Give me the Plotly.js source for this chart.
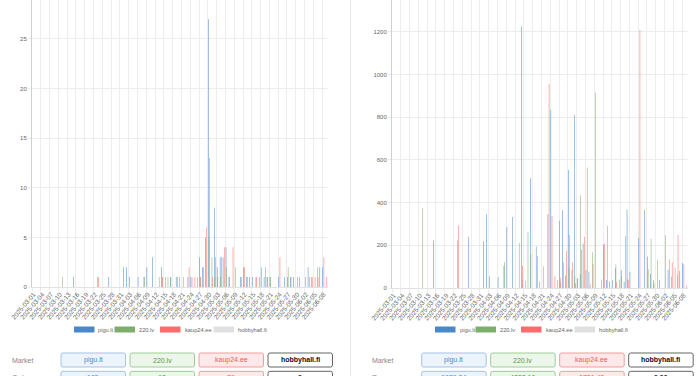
<!DOCTYPE html>
<html><head><meta charset="utf-8">
<script src="https://cdn.plot.ly/plotly-3.0.1.min.js"></script>
<style>html,body{margin:0;padding:0;background:#fff;overflow:hidden}#chart{width:700px;height:376px}</style>
</head><body><div id="chart"></div>
<script>
// ---------- DATA ----------
const dates = [
"2025-03-01","2025-03-02","2025-03-03","2025-03-04","2025-03-05","2025-03-06","2025-03-07","2025-03-08","2025-03-09","2025-03-10",
"2025-03-11","2025-03-12","2025-03-13","2025-03-14","2025-03-15","2025-03-16","2025-03-17","2025-03-18","2025-03-19","2025-03-20",
"2025-03-21","2025-03-22","2025-03-23","2025-03-24","2025-03-25","2025-03-26","2025-03-27","2025-03-28","2025-03-29","2025-03-30",
"2025-03-31","2025-04-01","2025-04-02","2025-04-03","2025-04-04","2025-04-05","2025-04-06","2025-04-07","2025-04-08","2025-04-09",
"2025-04-10","2025-04-11","2025-04-12","2025-04-13","2025-04-14","2025-04-15","2025-04-16","2025-04-17","2025-04-18","2025-04-19",
"2025-04-20","2025-04-21","2025-04-22","2025-04-23","2025-04-24","2025-04-25","2025-04-26","2025-04-27","2025-04-28","2025-04-29",
"2025-04-30","2025-05-01","2025-05-02","2025-05-03","2025-05-04","2025-05-05","2025-05-06","2025-05-07","2025-05-08","2025-05-09",
"2025-05-10","2025-05-11","2025-05-12","2025-05-13","2025-05-14","2025-05-15","2025-05-16","2025-05-17","2025-05-18","2025-05-19",
"2025-05-20","2025-05-21","2025-05-22","2025-05-23","2025-05-24","2025-05-25","2025-05-26","2025-05-27","2025-05-28","2025-05-29",
"2025-05-30","2025-05-31","2025-06-01","2025-06-02","2025-06-03","2025-06-04","2025-06-05","2025-06-06","2025-06-07","2025-06-08",
"2025-06-09"];

const markets = ["pigu.lt", "220.lv", "kaup24.ee", "hobbyhall.fi"];

// Orders per day (left chart)
const ordersPigu = [
0,0,0,0,0,0,0,0,0,0, 0,0,0,0,1,0,0,0,0,0, 0,0,0,0,0,0,1,0,0,0, 0,2,2,1,0,0,1,0,1,2,
0,3,0,0,2,0,0,1,0,1, 0,0,0,1,1,0,0,3,2,5, 27,0,8,2,3,3,4,1,0,0, 0,1,2,1,1,1,0,0,2,1,
1,1,0,0,1,0,1,1,1,1, 0,1,0,0,2,0,0,0,2,2, 0];
const orders220 = [
0,0,0,0,0,0,0,0,0,0, 1,0,0,0,0,0,0,0,0,0, 0,0,1,0,0,0,0,0,0,0, 0,0,0,0,0,0,0,0,1,0,
0,0,0,1,1,0,1,1,0,0, 1,0,0,0,0,0,1,1,0,0, 5,3,1,1,1,0,2,1,0,2, 0,1,0,0,0,0,1,0,0,0,
1,1,0,0,0,0,0,2,1,0, 0,0,0,1,0,1,0,2,0,0, 0];
const ordersKaup = [
0,0,0,0,0,0,0,0,0,0, 0,0,0,0,0,0,0,0,0,0, 0,0,1,0,0,0,0,0,0,0, 0,0,0,0,0,0,0,0,0,0,
0,0,0,0,1,1,0,0,0,1, 0,1,0,2,1,1,0,1,2,6, 13,1,3,0,3,4,0,0,4,0, 0,0,2,1,0,0,1,1,0,2,
0,0,0,0,3,0,0,0,0,0, 1,0,0,0,1,1,1,1,0,3, 1];
const ordersHobby = [
0,0,0,0,0,0,0,0,0,0, 0,0,0,0,0,0,0,0,0,0, 0,0,0,0,0,0,0,0,0,0, 0,0,0,0,0,0,0,0,0,0,
0,0,0,0,0,0,0,0,0,0, 0,0,0,0,0,0,0,0,0,0, 0,0,0,0,0,0,0,0,0,0, 0,0,0,0,0,0,0,0,0,0,
0,0,0,0,0,0,0,0,0,0, 0,0,0,0,0,0,0,0,0,0, 0];

// Revenue per day (right chart)
const revenuePigu = [
0,0,0,0,0,0,0,0,0,0, 0,0,0,0,223,0,0,0,0,0, 0,0,0,0,0,0,240,0,0,0, 0,220,346,55,0,0,52,0,103,286,
0,333,0,0,1225,0,0,514,0,194, 0,0,0,347,834,0,0,315,364,59, 553,0,810,45,64,209,84,76,0,0, 0,0,204,37,30,37,92,0,84,30,
368,76,0,0,233,0,365,147,66,37, 0,37,0,0,84,0,0,0,81,117, 0];
const revenue220 = [
0,0,0,0,0,0,0,0,0,0, 373,0,0,0,0,0,0,0,0,0, 0,0,223,0,0,0,0,0,0,0, 0,0,0,0,0,0,0,0,122,0,
0,0,0,211,37,0,264,159,0,0, 30,0,0,0,0,0,37,27,0,0, 92,84,56,45,435,0,0,0,167,915, 0,40,0,0,0,0,111,0,56,0,
45,0,0,0,0,0,0,89,229,22, 0,0,0,247,0,53,0,64,0,0, 0];
const revenueKaup = [
0,0,0,0,0,0,0,0,0,0, 0,0,0,0,0,0,0,0,0,0, 0,0,293,0,0,0,0,0,0,0, 0,0,0,0,0,0,0,0,0,0,
0,0,0,0,103,33,0,0,0,150, 0,101,0,957,337,55,0,48,119,173, 248,119,22,0,178,240,565,17,112,0, 0,0,209,290,0,0,27,40,0,244,
37,0,0,0,1208,0,0,0,0,0, 134,0,0,0,134,120,95,250,0,111, 12];
const revenueHobby = [
0,0,0,0,0,0,0,0,0,0, 0,0,0,0,0,0,0,0,0,0, 0,0,0,0,0,0,0,0,0,0, 0,0,0,0,0,0,0,0,0,0,
0,0,0,0,0,0,0,0,0,0, 0,0,0,0,0,0,0,0,0,0, 0,0,0,0,0,0,0,0,0,0, 0,0,0,0,0,0,0,0,0,0,
0,0,0,0,0,0,0,0,0,0, 0,0,0,0,0,0,0,0,0,0, 0];

// Table rows (second row only partly visible)
const orderTotals = ["105", "62", "79", "0"];
const revenueTotals = ["9676.34", "4233.10", "6781.45", "0.00"];

// ---------- STYLE ----------
const W = 700, H = 376;
const px = x => x / W;
const py = y => 1 - y / H;
const FONT = "Liberation Sans, Arial, Helvetica, sans-serif";
const barColors = ["#4a89c8", "#7eae6c", "#ff6b6b", "#e0e0e0"];
const textColors = ["#4a89c8", "#4f9a45", "#e65c5c", "#111111"];
const boxFill = ["#edf3fa", "#edf6eb", "#fde9e9", "#ffffff"];
const boxLine = ["#a3c3e4", "#9dcd95", "#f39c9c", "#666666"];

const panels = [
  {series: [ordersPigu, orders220, ordersKaup, ordersHobby], xa: "x", ya: "y",
   totals: orderTotals, rowLabel: "Orders"},
  {series: [revenuePigu, revenue220, revenueKaup, revenueHobby], xa: "x2", ya: "y2",
   totals: revenueTotals, rowLabel: "Revenue"}
];

const traces = [];
panels.forEach(p => {
  p.series.forEach((vals, m) => {
    traces.push({
      type: "bar", x: dates, y: vals, name: markets[m],
      xaxis: p.xa, yaxis: p.ya,
      marker: {color: barColors[m], line: {width: 0}},
      showlegend: false, hoverinfo: "skip"
    });
  });
});

const gridC = "#ededed";
function xAxis(dom, anchor) {
  return {domain: dom, anchor: anchor, type: "category", range: [-0.5, dates.length - 0.5],
    tickmode: "linear", tick0: 0, dtick: 3, tickson: "boundaries",
    showgrid: true, gridcolor: gridC, gridwidth: 1,
    ticks: "outside", ticklen: 4, tickcolor: gridC,
    tickangle: -50, tickfont: {family: FONT, size: 6.5, color: "#666"},
    showline: true, linecolor: "#e2e2e2", linewidth: 1, zeroline: false, fixedrange: true};
}
function yAxis(dom, anchor, range, dtick) {
  return {domain: dom, anchor: anchor, range: range, tick0: 0, dtick: dtick,
    showgrid: true, gridcolor: gridC, gridwidth: 1,
    ticks: "outside", ticklen: 3, tickcolor: gridC,
    tickfont: {family: FONT, size: 6, color: "#666"},
    showline: true, linecolor: "#cfcfcf", linewidth: 1, zeroline: false, fixedrange: true};
}

const shapes = [];
const annotations = [];

// divider between the two cards
shapes.push({type: "line", xref: "paper", yref: "paper", x0: px(350.5), x1: px(350.5), y0: 0, y1: 1,
  line: {color: "#e6e6e6", width: 1}});

// custom legends (Chart.js style wide swatches)
const legendStarts = [74, 435];
const legendOffsets = [0, 40.5, 86, 139.5];
panels.forEach((p, i) => {
  markets.forEach((name, m) => {
    const x0 = legendStarts[i] + legendOffsets[m];
    shapes.push({type: "rect", xref: "paper", yref: "paper",
      x0: px(x0), x1: px(x0 + 20.5), y0: py(332.5), y1: py(326.5),
      fillcolor: barColors[m], line: {width: 0}});
    annotations.push({xref: "paper", yref: "paper", x: px(x0 + 22.5), y: py(329.5),
      xanchor: "left", yanchor: "middle", showarrow: false, text: name,
      font: {family: FONT, size: 5.7, color: "#666"}});
  });
});

// table rows below each chart
const boxW = 64.5, boxH = 14, r = 2;
const hw = boxW / 2, hh = boxH / 2;
const rrPath = `M ${-hw + r},${-hh} H ${hw - r} Q ${hw},${-hh} ${hw},${-hh + r} V ${hh - r} Q ${hw},${hh} ${hw - r},${hh} H ${-hw + r} Q ${-hw},${hh} ${-hw},${hh - r} V ${-hh + r} Q ${-hw},${-hh} ${-hw + r},${-hh} Z`;
const boxStarts = [61, 421.7];
const boxStep = 69;
const labelX = [10, 370];
const rowCenters = [360, 378.3];
panels.forEach((p, i) => {
  const rowTexts = [markets, p.totals];
  rowCenters.forEach((cy, row) => {
    const ty = row === 0 ? cy : cy - 0.8;
    annotations.push({xref: "paper", yref: "paper", x: px(labelX[i]), y: py(ty),
      xanchor: "left", yanchor: "middle", showarrow: false,
      text: row === 0 ? "Market" : p.rowLabel, font: {family: FONT, size: 7, color: "#888"}});
    markets.forEach((mk, m) => {
      const cx = boxStarts[i] + m * boxStep + hw;
      shapes.push({type: "path", xref: "paper", yref: "paper", xsizemode: "pixel", ysizemode: "pixel",
        xanchor: px(cx), yanchor: py(cy), path: rrPath,
        fillcolor: boxFill[m], line: {color: boxLine[m], width: 1}});
      const t = rowTexts[row][m];
      annotations.push({xref: "paper", yref: "paper", x: px(cx), y: py(ty),
        xanchor: "center", yanchor: "middle", showarrow: false,
        text: m === 3 ? "<b>" + t + "</b>" : t,
        font: {family: FONT, size: 7, color: textColors[m]}});
    });
  });
});

const layout = {
  width: W, height: H, margin: {l: 0, r: 0, t: 0, b: 0, pad: 0},
  paper_bgcolor: "#ffffff", plot_bgcolor: "#ffffff",
  barmode: "group", bargap: 0.2, bargroupgap: 0.1,
  showlegend: false,
  font: {family: FONT, color: "#666"},
  xaxis: xAxis([px(32), px(328)], "y"),
  yaxis: yAxis([py(287), 1], "x", [0, 28.93], 5),
  xaxis2: xAxis([px(392), px(688)], "y2"),
  yaxis2: yAxis([py(288), 1], "x2", [0, 1349], 200),
  shapes: shapes, annotations: annotations
};

Plotly.newPlot("chart", traces, layout, {staticPlot: true, displayModeBar: false});
</script>
</body></html>
